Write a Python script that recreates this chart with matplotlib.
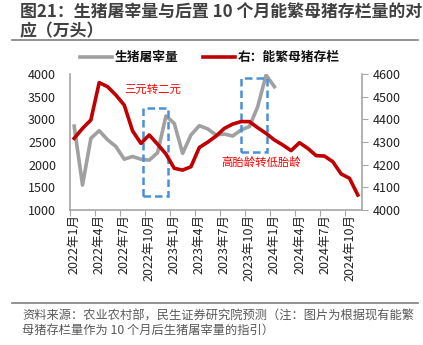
import matplotlib
matplotlib.use("Agg")
import matplotlib.pyplot as plt
from matplotlib.patches import Rectangle
from matplotlib.lines import Line2D
import numpy as np

plt.rcParams['font.family'] = ['Noto Sans CJK SC', 'DejaVu Sans']

months = [f"{y}年{m}月" for y in (2022, 2023, 2024) for m in range(1, 13)][:35]
tick_labels = months[::3]

slaughter = [2850, 1550, 2580, 2750, 2550, 2400, 2120, 2180, 2120, 2100,
             2265, 3075, 2910, 2250, 2655, 2860, 2790, 2655, 2676, 2632,
             2765, 2840, 3280, 3975, 3720]
sows = [4316, 4360, 4397, 4562, 4544, 4507, 4463, 4349, 4294, 4331,
        4290, 4247, 4184, 4176, 4191, 4276, 4299, 4326, 4360, 4379,
        4390, 4390, 4363, 4338, 4309, 4287, 4262, 4297, 4272, 4240,
        4238, 4213, 4159, 4140, 4066]

W, H = 423, 345
fig = plt.figure(figsize=(W / 100, H / 100), dpi=100)
ax = fig.add_axes([70 / W, 135 / H, 292 / W, 136 / H])
ax2 = ax.twinx()

x1 = np.arange(len(slaughter))
x2 = np.arange(len(sows))
ax.plot(x1, slaughter, color='#A0A0A0', lw=2.6, solid_joinstyle='round', zorder=3)
ax2.plot(x2, sows, color='#C00000', lw=2.6, solid_joinstyle='round', zorder=3)

ax.set_xlim(-0.5, len(months) - 0.5)
ax.set_ylim(1000, 4000)
ax.set_yticks(np.arange(1000, 4001, 500))
ax2.set_ylim(4000, 4600)
ax2.set_yticks(np.arange(4000, 4601, 100))

ax.set_xticks(np.arange(-0.5, len(months) - 1, 3))
ax.set_xticklabels([])
ax.set_xticks(np.arange(0, len(months), 3), minor=True)
ax.set_xticklabels(tick_labels, minor=True, rotation=90, fontsize=9, color='#222222')
ax.tick_params(axis='x', which='major', length=4, color='#A6A6A6', direction='out')
ax.tick_params(axis='x', which='minor', length=0, pad=3)
ax.tick_params(axis='y', length=0, labelsize=9, labelcolor='#222222', pad=10)
ax2.tick_params(axis='y', length=4, color='#A6A6A6', labelsize=9, labelcolor='#222222', pad=4)

for a in (ax, ax2):
    for s in a.spines.values():
        s.set_color('#A6A6A6')
        s.set_linewidth(1.2)
    a.spines['top'].set_visible(False)
ax.spines['right'].set_visible(False)
ax2.spines['left'].set_visible(False)
ax2.spines['bottom'].set_visible(False)

# dashed boxes
box_kw = dict(fill=False, ec='#4A90D9', lw=1.8, ls=(0, (3, 1.6)), zorder=4)
i1 = months.index("2022年10月")
ax.add_patch(Rectangle((i1 - 0.75, 1310), 3.0, 1940, **box_kw))
i2 = months.index("2023年9月")
ax.add_patch(Rectangle((i2 + 0.0, 2280), 3.1, 1630, **box_kw))

ax.text((153 - 70) / 292 * 35 - 0.5, 3650, "三元转二元", color='#FF0000', fontsize=8.2,
        ha='center', va='center', zorder=5)
ax.text((261 - 70) / 292 * 35 - 0.5, 2060, "高胎龄转低胎龄", color='#FF0000', fontsize=8.2,
        ha='center', va='center', zorder=5)

# title
fig.text(20 / W, 1 - 12 / H, "图21：生猪屠宰量与后置 10 个月能繁母猪存栏量的对",
         fontsize=12.2, fontweight='bold', color='#404040', ha='left', va='center')
fig.text(20 / W, 1 - 31 / H, "应（万头）",
         fontsize=12.2, fontweight='bold', color='#404040', ha='left', va='center')
fig.add_artist(Line2D([12 / W, 418 / W], [1 - 40 / H, 1 - 40 / H], color='#7F7F7F', lw=1.2))

# legend
ly = 1 - 57 / H
fig.add_artist(Line2D([80 / W, 112 / W], [ly, ly], color='#A0A0A0', lw=2.6))
fig.text(115 / W, ly, "生猪屠宰量", fontsize=9.2, fontweight='bold', color='#111111',
         ha='left', va='center')
fig.add_artist(Line2D([203 / W, 235 / W], [ly, ly], color='#C00000', lw=2.6))
fig.text(238 / W, ly, "右：能繁母猪存栏", fontsize=9.2, fontweight='bold', color='#111111',
         ha='left', va='center')

# source
fig.add_artist(Line2D([12 / W, 418 / W], [1 - 303 / H, 1 - 303 / H], color='#7F7F7F', lw=1.2))
fig.text(22 / W, 1 - 316 / H, "资料来源：农业农村部，民生证券研究院预测（注：图片为根据现有能繁",
         fontsize=8.8, color='#595959', ha='left', va='center')
fig.text(22 / W, 1 - 330 / H, "母猪存栏量作为 10 个月后生猪屠宰量的指引）",
         fontsize=8.8, color='#595959', ha='left', va='center')

fig.savefig("out.png", dpi=100)
